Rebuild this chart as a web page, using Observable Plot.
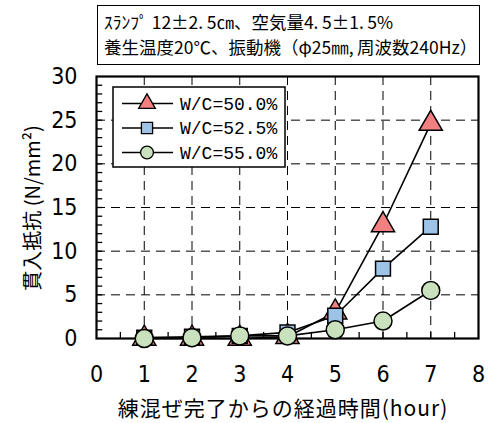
<!DOCTYPE html>
<html>
<head>
<meta charset="utf-8">
<script src="https://cdn.jsdelivr.net/npm/d3@7"></script>
<script src="https://cdn.jsdelivr.net/npm/@observablehq/plot@0.6"></script>
<style>
  html, body { margin: 0; padding: 0; background: white; }
  #wrap { position: relative; width: 489px; height: 423px; overflow: hidden; }
  #wrap > * { position: absolute; }
  #note { left: 97px; top: 5px; border: 1.8px solid black;
          font-family: "Noto Sans CJK JP", sans-serif; font-size: 17.5px; line-height: 25px;
          padding: 3px 0 0 6px; box-sizing: border-box; width: 383px; height: 60px; white-space: nowrap; color: #000; }
</style>
</head>
<body>
<div id="wrap"></div>
<script>
// ---- data ----
const hours = [1, 2, 3, 4, 5, 6, 7];
const wc500 = [0, 0, 0, 0.2, 3.0, 13.0, 24.6];
const wc525 = [0.1, 0.2, 0.3, 0.7, 2.6, 8.0, 12.8];
const wc550 = [0, 0.1, 0.3, 0.3, 1.0, 2.0, 5.5];
const seriesNames = ["W/C=50.0%", "W/C=52.5%", "W/C=55.0%"];
const seriesSymbols = ["triangle", "square", "circle"];
const seriesFills = ["#f28080", "#9dc3e6", "#c9e2bd"];
const xTicks = [0, 1, 2, 3, 4, 5, 6, 7, 8];
const yTicks = [0, 5, 10, 15, 20, 25, 30];
const xGrid = [1, 2, 3, 4, 5, 6, 7];
const yGrid = [5, 10, 15, 20, 25];
const xMinor = [0.5, 1, 1.5, 2, 2.5, 3, 3.5, 4, 4.5, 5, 5.5, 6, 6.5, 7, 7.5];
const yMinor = [1,2,3,4,5,6,7,8,9,10,11,12,13,14,15,16,17,18,19,20,21,22,23,24,25,26,27,28,29];
const xLabel = "練混ぜ完了からの経過時間(hour)";
const yLabel = "貫入抵抗 (N/mm²)";
const noteLines = ["ｽﾗﾝﾌﾟ 12±2.\u20095㎝、空気量4.\u20095±1.\u20095%", "養生温度20℃、振動機（φ25㎜,\u2009周波数240Hz）"];

const seriesValues = [wc500, wc525, wc550];
const rows = [];
seriesNames.forEach((name, i) => hours.forEach((h, j) => rows.push({series: name, i, hour: h, value: seriesValues[i][j]})));
const symbolScale = {domain: seriesNames, range: seriesSymbols};
const rSizes = [8.6, 8.4, 9.0];

const numFont = '"Liberation Sans Narrow", "DejaVu Sans Condensed", sans-serif';

const chart = Plot.plot({
  width: 489, height: 423,
  marginLeft: 96, marginRight: 11, marginTop: 76, marginBottom: 85,
  x: {domain: [0, 8]},
  y: {domain: [0, 30]},
  style: {fontFamily: numFont, fontSize: "23px", color: "black", background: "transparent"},
  marks: [
    Plot.gridX(xGrid, {stroke: "black", strokeOpacity: 1, strokeWidth: 1, strokeDasharray: "9,6"}),
    Plot.gridY(yGrid, {stroke: "black", strokeOpacity: 1, strokeWidth: 1, strokeDasharray: "9,6"}),
    Plot.ruleX(xMinor, {x: d => d, y1: 0, y2: 0.7, stroke: "black", strokeWidth: 1.3}),
    Plot.ruleY(yMinor, {y: d => d, x1: 0, x2: 0.13, stroke: "black", strokeWidth: 1.3}),
    Plot.axisX({ticks: xTicks, tickSize: 0, tickPadding: 27, label: null, fontSize: 23}),
    Plot.axisY({ticks: yTicks, tickSize: 0, tickPadding: 19, label: null, fontSize: 23}),
    Plot.frame({stroke: "black", strokeWidth: 2.2}),
    Plot.line(rows, {x: "hour", y: "value", z: "series", stroke: "black", strokeWidth: 1.6}),
    ...seriesNames.map((name, i) =>
      Plot.dot(rows.filter(d => d.i === i), {
        x: "hour", y: "value", symbol: "series", fill: seriesFills[i],
        stroke: "black", strokeWidth: 1.5, r: rSizes[i]
      })
    )
  ],
  symbol: symbolScale
});
const wrap = document.getElementById("wrap");
chart.style.left = "0px"; chart.style.top = "0px";
wrap.appendChild(chart);

// note box
const note = document.createElement("div");
note.id = "note";
note.innerHTML = noteLines.map(t => `<div>${t}</div>`).join("");
wrap.appendChild(note);

// overlay svg: legend + y label + x label
const ov = d3.create("svg").attr("width", 489).attr("height", 423)
  .style("left", "0px").style("top", "0px").style("overflow", "visible");
const lg = ov.append("g");
lg.append("rect").attr("x", 113).attr("y", 87).attr("width", 172).attr("height", 80)
  .attr("fill", "white").attr("stroke", "black").attr("stroke-width", 1.5);
const legendY = [103.5, 128, 152.5];
const legendSym = [d3.symbolTriangle, d3.symbolSquare, d3.symbolCircle];
const legendR = [6.2, 6.3, 6.4];
seriesNames.forEach((name, i) => {
  const y = legendY[i];
  lg.append("line").attr("x1", 122).attr("x2", 173).attr("y1", y).attr("y2", y)
    .attr("stroke", "black").attr("stroke-width", 1.6);
  lg.append("path").attr("d", d3.symbol(legendSym[i], Math.PI * legendR[i] ** 2)())
    .attr("transform", `translate(147,${y})`).attr("fill", seriesFills[i])
    .attr("stroke", "black").attr("stroke-width", 1.3);
  lg.append("text").attr("x", 180).attr("y", y).attr("dy", "0.36em")
    .attr("font-family", '"Liberation Mono", "DejaVu Sans Mono", monospace')
    .attr("font-size", 18).text(name);
});
ov.append("text").attr("transform", "translate(40,208) rotate(-90)")
  .attr("text-anchor", "middle").attr("font-family", '"Noto Sans CJK JP", sans-serif')
  .attr("font-size", 20).text(yLabel);
ov.append("text").attr("x", 283).attr("y", 416)
  .attr("text-anchor", "middle").attr("font-family", '"Noto Sans CJK JP", sans-serif')
  .attr("font-size", 21).attr("letter-spacing", 1).text(xLabel);
wrap.appendChild(ov.node());
</script>
</body>
</html>
